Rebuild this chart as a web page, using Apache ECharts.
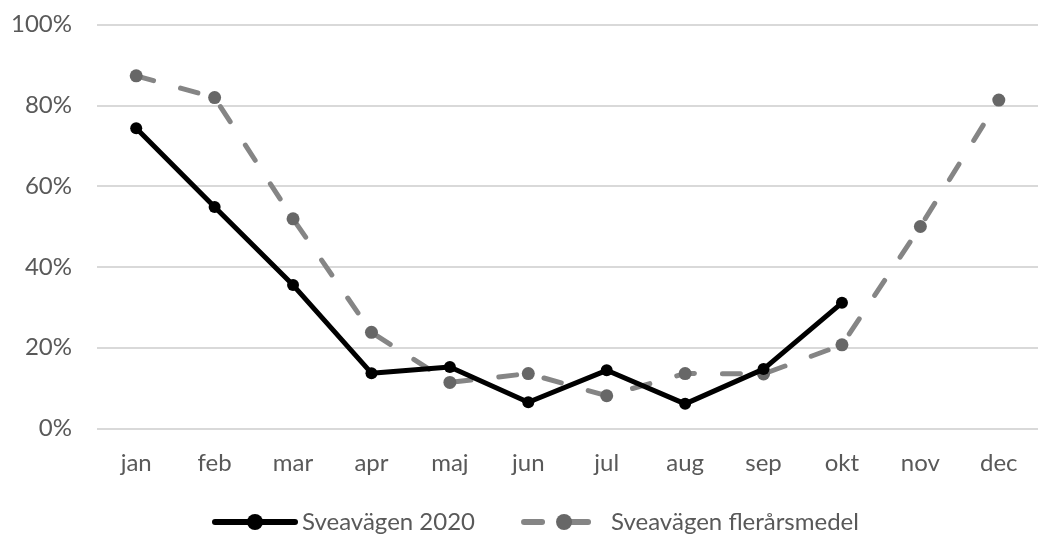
<!DOCTYPE html>
<html>
<head>
<meta charset="utf-8">
<script src="https://cdn.jsdelivr.net/npm/echarts@6/dist/echarts.min.js"></script>
<style>
  html, body { margin: 0; padding: 0; background: #fff; }
  #chart { width: 1038px; height: 539px; }
</style>
</head>
<body>
<div id="chart"></div>
<script>
// Månadskategorier och värden (procent)
const months = ['jan', 'feb', 'mar', 'apr', 'maj', 'jun', 'jul', 'aug', 'sep', 'okt', 'nov', 'dec'];
const sveavagen2020 = [74.3, 54.8, 35.5, 13.7, 15.2, 6.5, 14.4, 6.1, 14.7, 31.1];
const sveavagenMedel = [87.3, 81.9, 51.9, 23.8, 11.4, 13.6, 8.1, 13.6, 13.5, 20.7, 50.0, 81.3];
const yTicks = { min: 0, max: 100, step: 20 };

const labelFont = 'Lato, "Open Sans", sans-serif';
const textColor = '#595959';

const chart = echarts.init(document.getElementById('chart'), null, { renderer: 'canvas' });
chart.setOption({
  animation: false,
  backgroundColor: '#ffffff',
  grid: { left: 97, right: -14, top: 24.5, bottom: 110.5 },
  xAxis: {
    type: 'category',
    data: months,
    boundaryGap: true,
    axisLine: { show: false },
    axisTick: { show: false },
    axisLabel: { color: textColor, fontFamily: labelFont, fontSize: 24, margin: 23 }
  },
  yAxis: {
    type: 'value',
    min: yTicks.min,
    max: yTicks.max,
    interval: yTicks.step,
    axisLine: { show: false },
    axisTick: { show: false },
    splitLine: { lineStyle: { color: '#d9d9d9', width: 2 } },
    axisLabel: { color: textColor, fontFamily: labelFont, fontSize: 24, margin: 25, formatter: '{value}%' }
  },
  legend: {
    left: 207,
    top: 505,
    itemWidth: 80,
    itemHeight: 20,
    itemGap: 46,
    lineStyle: { width: 6 },
    textStyle: { color: textColor, fontFamily: labelFont, fontSize: 24, padding: [0, 0, 0, 2] },
    data: ['Sveavägen 2020', 'Sveavägen flerårsmedel']
  },
  series: [
    {
      name: 'Sveavägen flerårsmedel',
      type: 'line',
      data: sveavagenMedel,
      symbol: 'circle',
      symbolSize: 13,
      itemStyle: { color: '#676767' },
      lineStyle: { color: '#858585', width: 5, type: [18, 28], cap: 'round' },
      z: 2
    },
    {
      name: 'Sveavägen 2020',
      type: 'line',
      data: sveavagen2020,
      symbol: 'circle',
      symbolSize: 12,
      itemStyle: { color: '#000000' },
      lineStyle: { color: '#000000', width: 5, cap: 'round', join: 'round' },
      z: 3
    }
  ]
});
</script>
</body>
</html>
